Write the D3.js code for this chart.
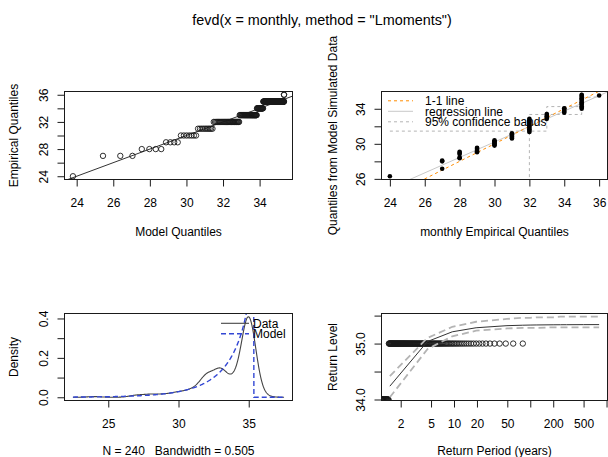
<!DOCTYPE html>
<html>
<head>
<meta charset="utf-8">
<script src="https://cdn.jsdelivr.net/npm/d3@7"></script>
<style>
  body { margin: 0; background: #fff; }
  svg text { font-family: "Liberation Sans", Arial, Helvetica, sans-serif; fill: #000; }
</style>
</head>
<body>
<svg id="fig" width="608" height="457"></svg>
<script>
// ---- monthly maxima: distinct values and how often each occurs (N = 240)
const sampleValues = [24, 27, 28, 29, 30, 31, 32, 33, 34, 35, 36];
const sampleCounts = [1, 3, 4, 4, 7, 10, 30, 38, 20, 121, 2];

// ---- GEV fitted by L-moments: location, scale, shape
const gevParams = [33.67, 1.897, -1.136];
const bandwidth = 0.505;

// ---- quantiles of data simulated from the fitted model, one group per empirical value
const simX = [24, 27, 28, 29, 30, 31, 32, 33, 34, 35, 36];
const simY = [
  [26.3],
  [27.15, 28.0, 28.1],
  [28.35, 28.45, 28.85, 28.95, 29.1],
  [29.05, 29.15, 29.3, 29.45, 29.55],
  [29.8, 29.9, 30.0, 30.1, 30.2, 30.3, 30.4],
  [30.6, 30.7, 30.8, 30.9, 31.0, 31.1, 31.2],
  [31.35, 31.5, 31.65, 31.8, 31.95, 32.1, 32.25, 32.4, 32.55, 32.7, 32.85],
  [32.85, 33.0, 33.15, 33.3, 33.4],
  [33.55, 33.7, 33.85, 34.0, 34.05],
  [34.0, 34.15, 34.3, 34.45, 34.6, 34.75, 34.9, 35.05, 35.2, 35.35, 35.5, 35.6],
  [35.52]
];
// regression of simulated on empirical quantiles: intercept, slope
const regCoef = [3.78, 0.881];
// 95% confidence bands (vertices along the empirical quantiles)
const bandUpperX = [24, 32, 32, 33, 33, 35, 35, 36];
const bandUpperY = [31.45, 31.45, 33.35, 33.35, 34.25, 34.25, 36.6, 36.6];
const bandLowerX = [32, 32, 33, 33, 35, 35, 36];
const bandLowerY = [26.2, 31.45, 31.45, 33.35, 33.35, 35.3, 35.35];

// ---- return levels: periods and 95% confidence limits
const returnPeriods = [2, 5, 10, 20, 50, 80, 100, 120, 200, 250, 300, 500, 800];
const rlUpper = [34.42, 35.10, 35.30, 35.39, 35.44, 35.46, 35.46, 35.47, 35.47, 35.48, 35.48, 35.48, 35.48];
const rlLower = [34.04, 34.90, 35.13, 35.23, 35.27, 35.28, 35.28, 35.28, 35.29, 35.29, 35.29, 35.29, 35.29];

// ---- tick values and labels
const qqXTicks = [24, 26, 28, 30, 32, 34];
const qqXLabels = ["24", "26", "28", "30", "32", "34"];
const qqYTicks = [24, 26, 28, 30, 32, 34, 36];
const qqYLabels = ["24", "", "28", "", "32", "", "36"];
const simXTicks = [24, 26, 28, 30, 32, 34, 36];
const simXLabels = ["24", "26", "28", "30", "32", "34", "36"];
const simYTicks = [26, 28, 30, 32, 34];
const simYLabels = ["26", "", "30", "", "34"];
const densXTicks = [25, 30, 35];
const densXLabels = ["25", "30", "35"];
const densYTicks = [0, 0.1, 0.2, 0.3, 0.4];
const densYLabels = ["0.0", "", "0.2", "", "0.4"];
const rlXTicks = [2, 5, 10, 20, 50, 100, 200, 500, 1000];
const rlXLabels = ["2", "5", "10", "20", "50", "", "200", "500", ""];
const rlYTicks = [34.0, 34.5, 35.0, 35.5];
const rlYLabels = ["34.0", "", "35.0", ""];

// ------------------------------------------------------------------
const svg = d3.select("#fig");
const ink = "#1a1a1a";

// widen an extent by 4% at each end
const pad = ([a, b]) => { const d = (b - a) * 0.04; return [a - d, b + d]; };

const sample = sampleValues.flatMap((v, i) => d3.range(sampleCounts[i]).map(() => v));
const n = sample.length;
const pp = d3.range(1, n + 1).map(i => i / (n + 1));

const [mu, sigma, xi] = gevParams;
const gevQ = p => mu + sigma / xi * (Math.pow(-Math.log(p), -xi) - 1);
const gevD = x => {
  const z = 1 + xi * (x - mu) / sigma;
  if (z <= 0) return 0;
  const t = Math.pow(z, -1 / xi);
  return Math.pow(t, xi + 1) * Math.exp(-t) / sigma;
};

const boxes = {
  qq:   { l: 64.5, r: 292.5, t: 91.5,  b: 179.5 },
  sim:  { l: 381.5, r: 607.5, t: 91.5,  b: 179.5 },
  dens: { l: 64.5, r: 292.5, t: 313.5, b: 400.5 },
  rl:   { l: 381.5, r: 607.5, t: 313.5, b: 400.5 }
};

function frame(key) {
  const b = boxes[key];
  svg.append("clipPath").attr("id", "clip-" + key)
    .append("rect").attr("x", b.l).attr("y", b.t).attr("width", b.r - b.l).attr("height", b.b - b.t);
  return svg.append("g").attr("clip-path", `url(#clip-${key})`);
}

function border(key) {
  const b = boxes[key];
  svg.append("rect").attr("x", b.l).attr("y", b.t).attr("width", b.r - b.l).attr("height", b.b - b.t)
    .attr("fill", "none").attr("stroke", ink).attr("stroke-width", 1);
}

function axes(key, x, y, xt, xl, yt, yl, xTitle, yTitle, yTitleOff, xTitleOff) {
  const b = boxes[key];
  const ax = svg.append("g").attr("transform", `translate(0,${b.b})`)
    .call(d3.axisBottom(x).tickValues(xt).tickSize(7).tickPadding(12).tickFormat((d, i) => xl[i]));
  const ay = svg.append("g").attr("transform", `translate(${b.l},0)`)
    .call(d3.axisLeft(y).tickValues(yt).tickSize(7).tickFormat((d, i) => yl[i]));
  [ax, ay].forEach(a => {
    a.select(".domain").remove();
    a.attr("font-size", 12).attr("font-family", null);
    a.selectAll("line").attr("stroke", ink);
    a.selectAll("text").attr("fill", "#000");
  });
  ay.selectAll("text").attr("x", 0).attr("y", 0).attr("dy", "0.35em")
    .attr("text-anchor", "middle").attr("transform", "translate(-21,0) rotate(-90)");
  svg.append("text").attr("x", (b.l + b.r) / 2).attr("y", b.b + xTitleOff).attr("dy", "0.35em")
    .attr("text-anchor", "middle").attr("font-size", 12).style("white-space", "pre").text(xTitle);
  svg.append("text").attr("transform", `translate(${b.l - yTitleOff},${(b.t + b.b) / 2}) rotate(-90)`)
    .attr("dy", "0.35em").attr("text-anchor", "middle").attr("font-size", 12).text(yTitle);
}

// ---- main title
svg.append("text").attr("x", 322).attr("y", 24.5).attr("text-anchor", "middle")
  .attr("font-size", 14.4).text('fevd(x = monthly, method = "Lmoments")');

// ================= empirical vs model quantiles =================
{
  const b = boxes.qq;
  const mq = pp.map(gevQ);
  const x = d3.scaleLinear().domain(pad(d3.extent(mq))).range([b.l, b.r]);
  const y = d3.scaleLinear().domain(pad(d3.extent(sample))).range([b.b, b.t]);
  const g = frame("qq");
  const xd = x.domain();
  g.append("line").attr("x1", x(xd[0])).attr("y1", y(xd[0])).attr("x2", x(xd[1])).attr("y2", y(xd[1]))
    .attr("stroke", "#333").attr("stroke-width", 1);
  g.selectAll("circle").data(sample).join("circle")
    .attr("cx", (d, i) => x(mq[i])).attr("cy", d => y(d)).attr("r", 2.7)
    .attr("fill", "none").attr("stroke", ink).attr("stroke-width", 0.9);
  border("qq");
  axes("qq", x, y, qqXTicks, qqXLabels, qqYTicks, qqYLabels, "Model Quantiles", "Empirical Quantiles", 51, 52);
}

// ================= simulated vs empirical quantiles =================
{
  const b = boxes.sim;
  const pts = simX.flatMap((v, i) => simY[i].map(s => [v, s]));
  const x = d3.scaleLinear().domain(pad(d3.extent(sample))).range([b.l, b.r]);
  const y = d3.scaleLinear().domain(pad(d3.extent(pts, d => d[1]))).range([b.b, b.t]);
  const g = frame("sim");
  const xd = x.domain();
  const line = d3.line().x(d => x(d[0])).y(d => y(d[1]));
  g.append("path").attr("d", line(bandUpperX.map((v, i) => [v, bandUpperY[i]])))
    .attr("fill", "none").attr("stroke", "#b4b4b4").attr("stroke-width", 1).attr("stroke-dasharray", "3,3");
  g.append("path").attr("d", line(bandLowerX.map((v, i) => [v, bandLowerY[i]])))
    .attr("fill", "none").attr("stroke", "#b4b4b4").attr("stroke-width", 1).attr("stroke-dasharray", "3,3");
  g.append("path").attr("d", line(xd.map(v => [v, regCoef[0] + regCoef[1] * v])))
    .attr("fill", "none").attr("stroke", "#c8c8c8").attr("stroke-width", 1);
  g.append("path").attr("d", line(xd.map(v => [v, v])))
    .attr("fill", "none").attr("stroke", "#ff8c00").attr("stroke-width", 1).attr("stroke-dasharray", "3,3");
  g.selectAll("circle").data(pts).join("circle")
    .attr("cx", d => x(d[0])).attr("cy", d => y(d[1])).attr("r", 2.3).attr("fill", "#000");
  // legend
  const leg = [
    { label: "1-1 line", color: "#ff8c00", dash: "3,3" },
    { label: "regression line", color: "#c8c8c8", dash: null },
    { label: "95% confidence bands", color: "#b4b4b4", dash: "3,3" }
  ];
  leg.forEach((e, i) => {
    const yy = 100.8 + i * 10.5;
    svg.append("line").attr("x1", 388).attr("x2", 413).attr("y1", yy).attr("y2", yy)
      .attr("stroke", e.color).attr("stroke-width", 1).attr("stroke-dasharray", e.dash);
    svg.append("text").attr("x", 425).attr("y", yy).attr("dy", "0.35em").attr("font-size", 12).text(e.label);
  });
  border("sim");
  axes("sim", x, y, simXTicks, simXLabels, simYTicks, simYLabels,
       "monthly Empirical Quantiles", "Quantiles from Model Simulated Data", 49, 52);
}

// ================= density =================
{
  const b = boxes.dens;
  const lo = d3.min(sample) - 3 * bandwidth, hi = d3.max(sample) + 3 * bandwidth;
  const grid = d3.range(512).map(k => lo + (hi - lo) * k / 511);
  const kern = u => Math.exp(-0.5 * u * u) / Math.sqrt(2 * Math.PI);
  const kde = grid.map(t => [t, d3.sum(sampleValues, (v, i) => sampleCounts[i] * kern((t - v) / bandwidth)) / (n * bandwidth)]);
  const model = grid.map(t => [t, gevD(t)]);
  const x = d3.scaleLinear().domain(pad([lo, hi])).range([b.l, b.r]);
  const y = d3.scaleLinear().domain(pad([0, d3.max(kde, d => d[1])])).range([b.b, b.t]);
  const g = frame("dens");
  const line = d3.line().x(d => x(d[0])).y(d => y(Math.min(d[1], 5)));
  g.append("path").attr("d", line(kde)).attr("fill", "none").attr("stroke", "#444").attr("stroke-width", 1.1);
  g.append("path").attr("d", line(model)).attr("fill", "none").attr("stroke", "#3347d4")
    .attr("stroke-width", 1.4).attr("stroke-dasharray", "5,3");
  [["Data", "#444", null, 323.3], ["Model", "#3347d4", "5,3", 333.7]].forEach(([lab, c, dash, yy]) => {
    svg.append("line").attr("x1", 221).attr("x2", 249).attr("y1", yy).attr("y2", yy)
      .attr("stroke", c).attr("stroke-width", dash ? 1.4 : 1.1).attr("stroke-dasharray", dash);
    svg.append("text").attr("x", 253).attr("y", yy).attr("dy", "0.35em").attr("font-size", 12).text(lab);
  });
  border("dens");
  axes("dens", x, y, densXTicks, densXLabels, densYTicks, densYLabels,
       `N = ${n}   Bandwidth = ${bandwidth}`, "Density", 51, 50.5);
}

// ================= return levels =================
{
  const b = boxes.rl;
  const xr = returnPeriods.map(R => -1 / Math.log(1 - 1 / R));
  const rl = returnPeriods.map(R => gevQ(1 - 1 / R));
  const x = d3.scaleLog().domain(d3.extent(xr)).range([b.l, b.r]);
  const ld = x.domain().map(Math.log10);
  const lp = (ld[1] - ld[0]) * 0.04;
  x.domain([Math.pow(10, ld[0] - lp), Math.pow(10, ld[1] + lp)]);
  const y = d3.scaleLinear().domain(pad([d3.min(rlLower), d3.max(rlUpper)])).range([b.b, b.t]);
  const g = frame("rl");
  const line = d3.line().x(d => x(d[0])).y(d => y(d[1]));
  g.selectAll("circle").data(sample).join("circle")
    .attr("cx", (d, i) => x(-1 / Math.log(pp[i]))).attr("cy", d => y(d)).attr("r", 2.7)
    .attr("fill", "none").attr("stroke", ink).attr("stroke-width", 0.9);
  g.append("path").attr("d", line(xr.map((v, i) => [v, rl[i]])))
    .attr("fill", "none").attr("stroke", "#333").attr("stroke-width", 1);
  [rlUpper, rlLower].forEach(arr => {
    g.append("path").attr("d", line(xr.map((v, i) => [v, arr[i]])))
      .attr("fill", "none").attr("stroke", "#b4b4b4").attr("stroke-width", 1.8).attr("stroke-dasharray", "7,4");
  });
  border("rl");
  axes("rl", x, y, rlXTicks, rlXLabels, rlYTicks, rlYLabels, "Return Period (years)", "Return Level", 49, 50.5);
}
</script>
</body>
</html>
